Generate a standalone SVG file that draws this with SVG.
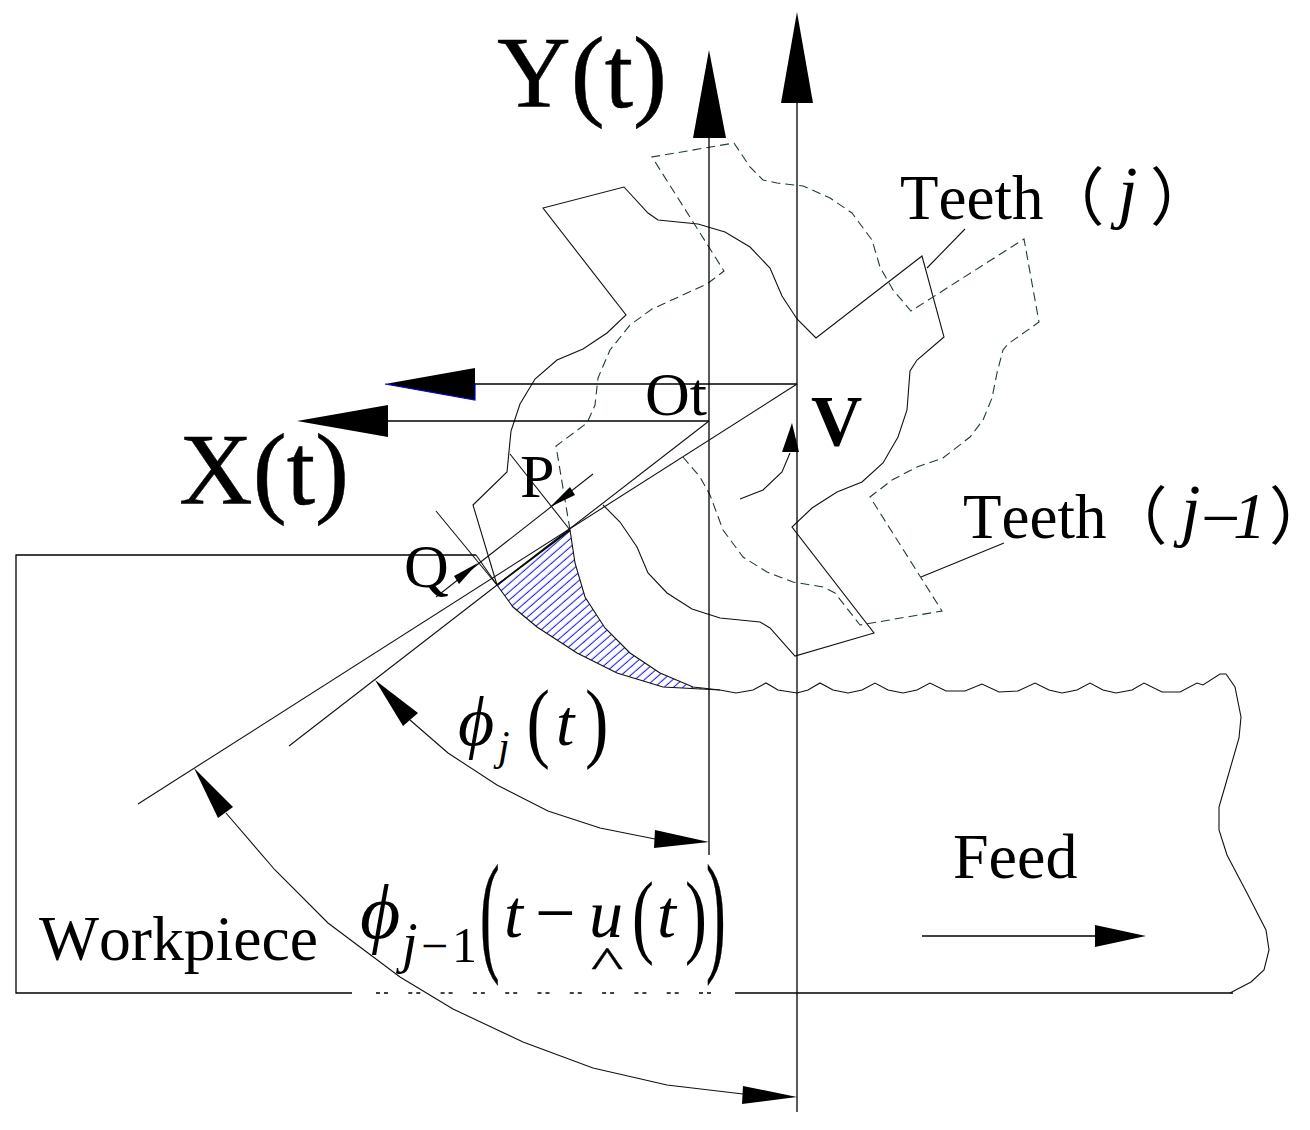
<svg xmlns="http://www.w3.org/2000/svg" width="1310" height="1130" viewBox="0 0 1310 1130">
<style>
.s{fill:none;stroke:#111;stroke-width:1.1;stroke-linejoin:miter}
.d{fill:none;stroke:#1f3d2c;stroke-width:1.1;stroke-dasharray:9 5}
.ax{fill:none;stroke:#000;stroke-width:1.3}
.h{fill:#000;stroke:none}
text{font-family:"Liberation Serif","Times New Roman",serif;fill:#000;font-kerning:none}
.i{font-style:italic}
.c{font-family:"Noto Sans CJK SC","Liberation Serif",sans-serif;font-feature-settings:"halt"}
.b{stroke:#000;stroke-width:.5}
</style>
<defs>
<pattern id="hatch" patternUnits="userSpaceOnUse" width="20" height="6.2" patternTransform="rotate(-41 497 585)">
<line x1="0" y1="3" x2="20" y2="3" stroke="#2222ee" stroke-width="1.1"/>
</pattern>
</defs>
<rect width="1310" height="1130" fill="#fff"/>

<g id="chip">
<path d="M497 585L570 530L575 563L585 597L605 628L630 653L660 673L693 687L720 690L663 687L617 673L577 653L537 627L513 607Z" fill="url(#hatch)" stroke="none"/>
<path class="s" d="M570 530L575 563L585 597L605 628L630 653L660 673L693 687L720 690"/>
<path class="s" d="M497 585L513 607L537 627L577 653L617 673L663 687L720 690"/>
<path fill="none" stroke="#000" stroke-width="1.6" d="M497 585L570 530"/>
</g>

<g id="workpiece">
<path class="ax" d="M476 555L16 555L16 993L352 993"/>
<path class="ax" d="M376 993L712 993" stroke-dasharray="4 4 4 20.3"/>
<path class="ax" d="M735 993L1233 993"/>
<path class="s" d="M476 555L497 585"/>
<path class="s" d="M720 690L736 693L753 690L766 683L778 690L797 693L808 690L820 683L833 690L848 693L862 690L875 683L888 690L903 693L917 690L930 683L946 691L965 691L982 684L999 692L1018 691L1035 683L1049 690L1062 693L1077 690L1090 683L1103 690L1116 693L1132 690L1144 683L1162 692L1180 692L1197 683L1203 685L1220 674L1226 674L1235 687L1241 717L1239 738L1226 783L1219 807L1219 830L1227 855L1247 893L1266 930L1269 950L1264 970L1251 982L1230 993"/>
</g>

<g id="tooth-j">
<path class="s" d="M497 585L473 505L507 472L511 431L520 404L535 379L557 360L583 349L607 333L626 315L543 208L624 187L648 213L658 220L698 224L725 232L750 247L770 268L782 296L797 319L816 338L922 256L944 337L917 360L910 371L907 410L898 437L883 463L862 482L837 492L812 508L792 527L874 633L795 656L770 628L760 622L720 618L692 609L667 593L648 573L637 547L620 522L603 505"/>
<path class="s" d="M510 454L570 530"/>
</g>

<g id="tooth-j-1">
<path class="d" d="M570 530L556 446L587 423L595 405L598 378L610 350L630 325L652 309L707 284L724 271L652 157L734 143L750 167L763 180L777 183L803 186L830 198L852 213L872 240L880 267L893 290L911 311L1024 239L1039 322L1008 344L1003 350L997 373L992 398L983 420L970 437L943 458L917 467L892 480L870 497L942 611L860 625L835 593L823 587L793 582L767 572L743 557L723 530L710 495L700 477L683 457"/>
</g>

<g id="connectors">
<path class="ax" d="M709 138L709 855"/>
<polygon class="h" points="709,50 693,138 726,138"/>
<path class="ax" d="M797 103L797 1112"/>
<polygon class="h" points="797,12 781,103 813,103"/>
<path class="ax" d="M797 384L475 384"/>
<polygon class="h" points="385,384 475,368 475,400"/>
<path fill="none" stroke="#0000e0" stroke-width="1.2" d="M385 384L475 400L475 384"/>
<path class="ax" d="M709 421L388 421"/>
<polygon class="h" points="297,421 388,405 388,437"/>
<path class="s" d="M797 384L138 804"/>
<path class="s" d="M709 421L289 746"/>
<path class="s" d="M436 511L497 585"/>
<path class="s" d="M593 474L436 597"/>
<polygon class="h" points="550,507 570,487 575,495"/>
<polygon class="h" points="478,563 454,576 459,584"/>
<path class="s" d="M740 499L763 490L782 472L790 453"/>
<polygon class="h" points="792,423 782,452 799,452"/>
<path class="s" d="M410 720L448 753L497 785L548 811L600 828L655 839"/>
<polygon class="h" points="375,680 418,713 403,726"/>
<polygon class="h" points="709,842 655,830 654,848"/>
<path class="s" d="M226 813L275 870L328 923L400 977L453 1009L523 1042L593 1068L667 1085L743 1094"/>
<polygon class="h" points="194,768 233,807 218,818"/>
<polygon class="h" points="797,1097 743,1086 742,1104"/>
<path class="s" d="M965 229L927 268"/>
<path class="s" d="M1004 543L921 577"/>
<path class="ax" d="M922 936L1095 936"/>
<polygon class="h" points="1146,936 1095,925 1095,947"/>
</g>

<g id="labels">
<text class="b" x="497" y="107" font-size="102">Y(t)</text>
<text class="b" x="179" y="504" font-size="102">X(t)</text>
<text x="645" y="415" font-size="62">Ot</text>
<text x="811" y="445" font-size="71" font-weight="bold">V</text>
<text x="520" y="497" font-size="62">P</text>
<text x="404" y="587" font-size="62">Q</text>
<text x="39" y="960" font-size="63.6">Workpiece</text>
<text x="953" y="878" font-size="64">Feed</text>
<text y="219" font-size="63"><tspan x="900">Teeth</tspan><tspan class="c" x="1073">（</tspan><tspan class="i" x="1118" y="215" font-size="70">j</tspan><tspan class="c" x="1150" y="219">）</tspan></text>
<text y="538" font-size="63"><tspan x="963">Teeth</tspan><tspan class="c" x="1136">（</tspan><tspan class="i" x="1181" y="533" font-size="70">j</tspan><tspan class="i" x="1205" y="533">–</tspan><tspan class="i" x="1233" y="538" font-size="66">1</tspan><tspan class="c" x="1269" y="538" font-size="63">）</tspan></text>
<text class="i" x="458" y="745" font-size="70">ϕ</text>
<text class="i" x="498" y="760" font-size="42">j</text>
<text transform="translate(526.6 751) scale(.8 1)" font-size="88">(</text>
<text class="i" x="556" y="745" font-size="66">t</text>
<text transform="translate(585 751) scale(.8 1)" font-size="88">)</text>
<text class="i" x="360" y="938" font-size="78">ϕ</text>
<text class="i" x="402" y="962" font-size="56">j</text>
<text x="421" y="962" font-size="48">−</text>
<text x="452" y="962" font-size="50">1</text>
<text class="b" transform="translate(480 957) scale(.43 .97)" font-size="137">(</text>
<text class="i" x="504" y="937" font-size="68">t</text>
<text x="535" y="937" font-size="72">−</text>
<text class="i" x="589" y="937" font-size="68">u</text>
<text class="b" transform="translate(591 977) scale(1 .65)" font-size="69">^</text>
<text transform="translate(632 946) scale(.7 1)" font-size="94">(</text>
<text class="i" x="657" y="937" font-size="68">t</text>
<text transform="translate(685 946) scale(.7 1)" font-size="94">)</text>
<text class="b" transform="translate(706 957) scale(.43 .97)" font-size="137">)</text>
</g>
</svg>
